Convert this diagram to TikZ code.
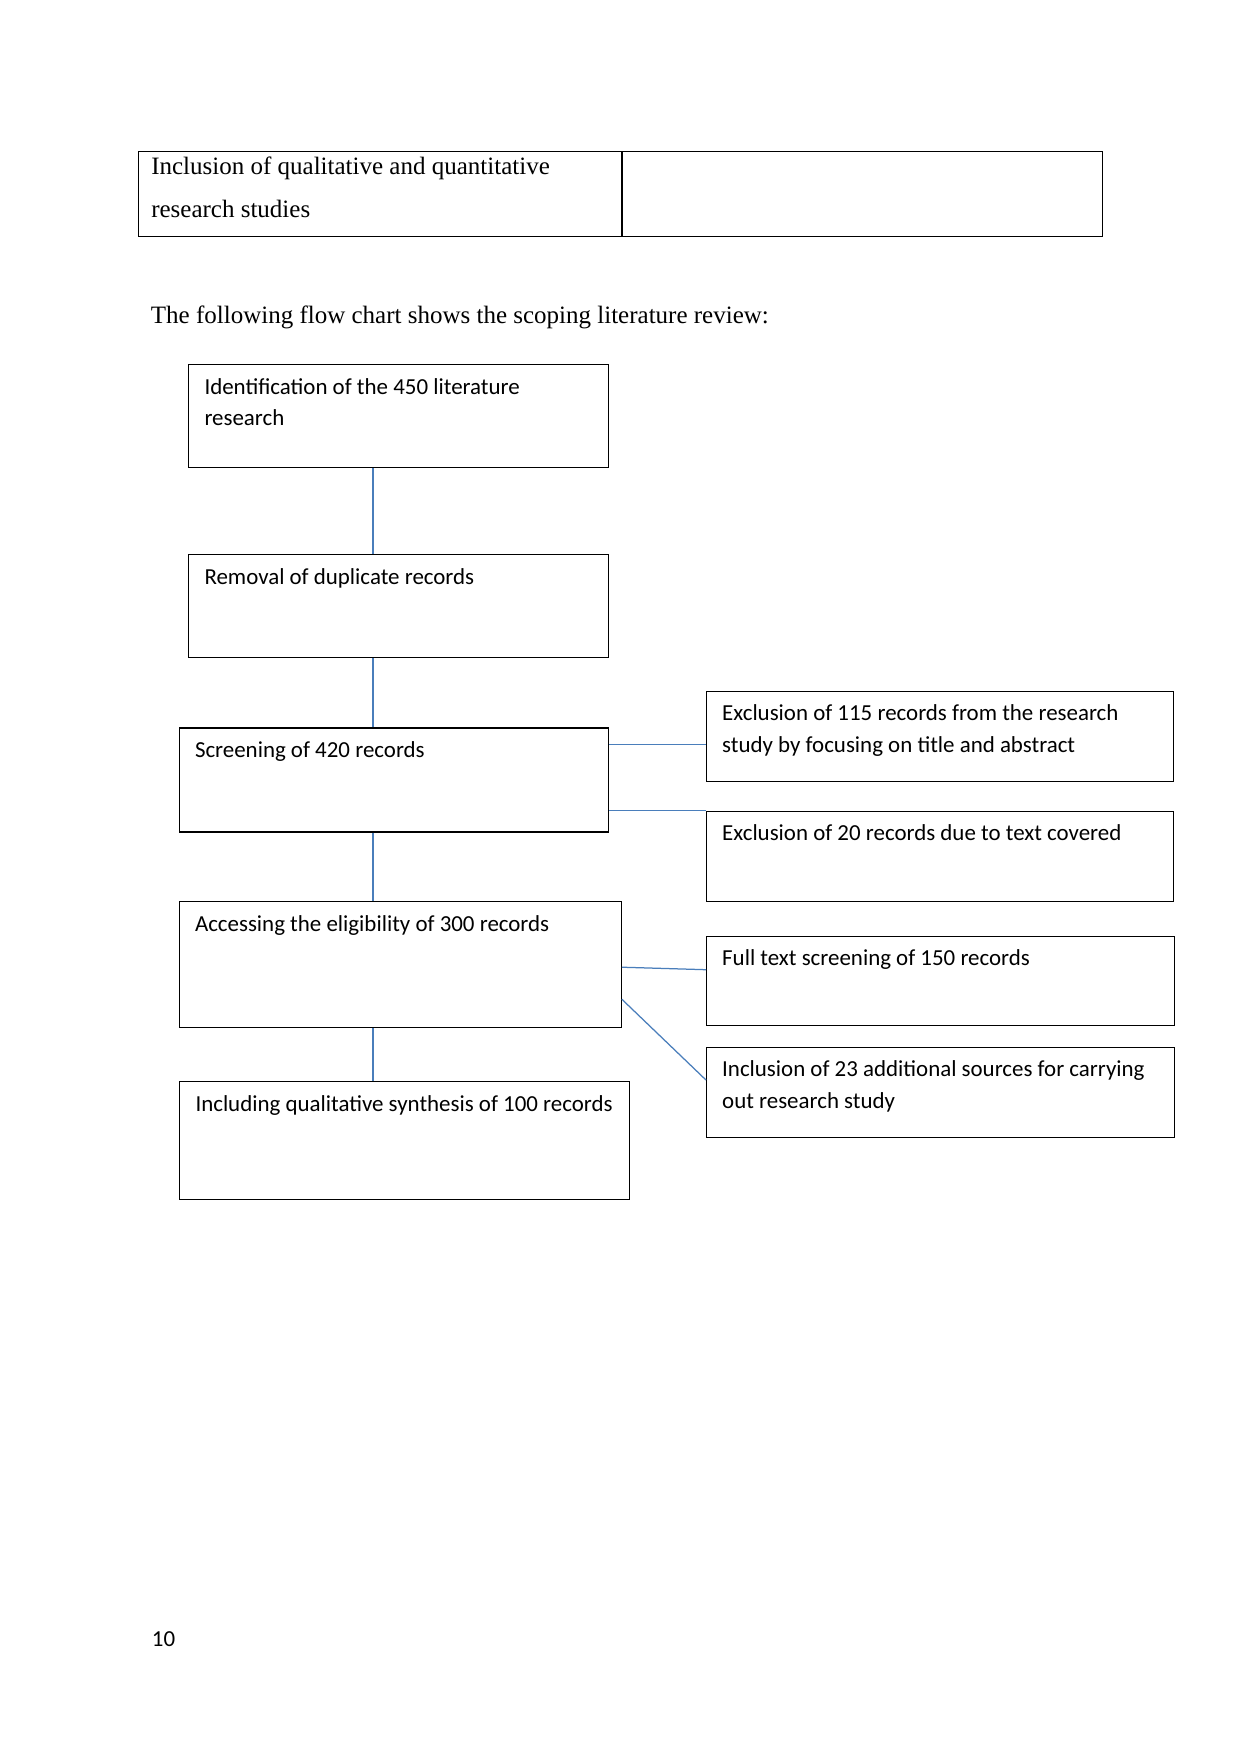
\documentclass[tikz,border=0pt]{standalone}
\usepackage{fontspec}
\setmainfont{Liberation Serif}
\newfontfamily\boxfont{Carlito}
\usepackage{tikz}
\usetikzlibrary{positioning, calc}
\definecolor{linkblue}{HTML}{4A7EBB}

\begin{document}
\begin{tikzpicture}[
    x=0.48pt, y=-0.48pt,
    every node/.style={execute at begin node={\spaceskip=0pt\xspaceskip=0pt\hyphenpenalty=10000}},
    cell/.style={draw, line width=0.55pt, anchor=north west, align=left, inner xsep=6pt, inner ysep=0pt,
        font=\fontsize{12}{20.35}\selectfont, text height=11.3pt, text depth=29.8pt},
    stage/.style={draw, line width=0.55pt, anchor=north west, align=left, inner xsep=7.5pt, inner ysep=0pt,
        font=\boxfont\fontsize{11}{15.1}\selectfont, text height=14.1pt},
    link/.style={draw=linkblue, line width=0.6pt},
    lbl/.style={anchor=base west, inner sep=0pt},
]
\useasboundingbox (0,0) rectangle (1241,1754);

% table row at the top of the page
\node[cell, text width=219.5pt] (critL) at (138.2,150.7) {Inclusion of qualitative and quantitative\\research studies};
\node[cell, text width=218.6pt] (critR) at (critL.north east) {};

\node[lbl, font=\fontsize{12}{14}\selectfont] (intro) at (150.5,323.3) {The following flow chart shows the scoping literature review:};

% --- main stages ---
\node[stage, text width=186.6pt, text depth=35.3pt] (ident) at (188.3,364.2) {Identification of the 450 literature\\research};
\node[stage, text width=186.6pt, text depth=35.3pt] (dup) at (188.3,554.2) {Removal of duplicate records};
\node[stage, text width=191.1pt, text depth=35.8pt] (scr) at (178.8,727.4) {Screening of 420 records};
\node[stage, text width=197.1pt, text depth=46.4pt] (elig) at (178.8,901.2) {Accessing the eligibility of 300 records};
\node[stage, text width=201pt, text depth=42.4pt] (synth) at (179.3,1081.3) {Including qualitative synthesis of 100 records};

% --- side outcomes ---
\node[stage, text width=209.3pt, text depth=29.3pt] (excl1) at (706,690.6) {Exclusion of 115 records from the research\\study by focusing on title and abstract};
\node[stage, text width=209.3pt, text depth=29.3pt] (excl2) at (706,810.5) {Exclusion of 20 records due to text covered};
\node[stage, text width=209.8pt, text depth=28.8pt] (full) at (706,935.7) {Full text screening of 150 records};
\node[stage, text width=209.8pt, text depth=29.2pt] (incl) at (706,1046.6) {Inclusion of 23 additional sources for carrying\\out research study};

% connectors
\coordinate (spine) at (373,0);
\draw[link] (ident.south -| spine) -- (dup.north -| spine);
\draw[link] (dup.south -| spine) -- (scr.north -| spine);
\draw[link] (scr.south -| spine) -- (elig.north -| spine);
\draw[link] (elig.south -| spine) -- (synth.north -| spine);
\draw[link] ($(scr.north east)+(0,17)$) coordinate (s1) -- (s1 -| excl1.west);
\draw[link] (scr.east |- excl2.north west) -- (excl2.north west);
\draw[link] ($(elig.north east)+(0,66)$) -- ($(full.north west)+(0,34)$);
\draw[link] ($(elig.north east)+(0,98)$) -- ($(incl.north west)+(0,33.4)$);

\node[lbl, font=\boxfont\fontsize{11}{13}\selectfont] (pagenum) at (151.5,1646) {10};
\end{tikzpicture}
\end{document}
